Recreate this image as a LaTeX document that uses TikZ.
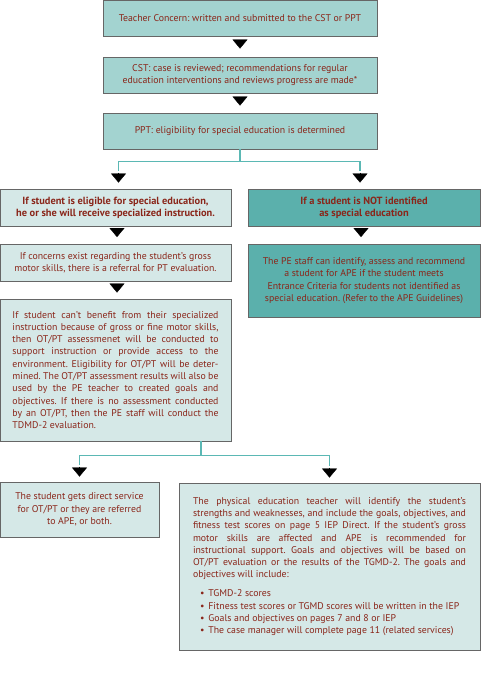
\documentclass[tikz,border=0pt]{standalone}
\usepackage{fontspec}
\setmainfont{PT Sans}
\usetikzlibrary{arrows.meta}
\definecolor{tealtop}{HTML}{A3D3D0}
\definecolor{tealpale}{HTML}{D5E8E7}
\definecolor{tealdark}{HTML}{5BB0AC}
\definecolor{tealline}{HTML}{5BB8B4}
\definecolor{boxtext}{HTML}{8A261A}
\definecolor{boxedge}{HTML}{666666}
\frenchspacing

\begin{document}
\begin{tikzpicture}[x=1pt, y=1pt, font=\fontsize{9.8}{12.3}\selectfont]
    \tikzstyle{box_style} = [draw=boxedge, line width=0.9pt, text=boxtext, inner sep=0pt, align=center]
    \tikzstyle{top_style} = [box_style, fill=tealtop, minimum width=274pt, minimum height=36pt]
    \tikzstyle{pale_style} = [box_style, fill=tealpale]
    \tikzstyle{dark_style} = [box_style, fill=tealdark]
    \tikzstyle{bold_text} = [font=\fontsize{10.4}{12.3}\selectfont\bfseries]
    \tikzstyle{tip_style} = [-{Triangle[width=15pt, length=9pt]}, black, line width=0.3pt]
    \tikzstyle{branch_style} = [tealline, line width=1.5pt]

    \useasboundingbox (0,0) rectangle (480,-692);

    \node[top_style] (concern) at (240,-18) {Teacher Concern: written and submitted to the CST or PPT};
    \node[top_style] (cst) at (240,-75) {CST: case is reviewed; recommendations for regular\\ education interventions and reviews progress are made*};
    \node[top_style] (ppt) at (240,-131) {PPT: eligibility for special education is determined};

    \node[pale_style, bold_text, minimum width=231pt, minimum height=37pt] (eligible) at (115.5,-207.5) {If student is eligible for special education,\\ he or she will receive specialized instruction.};
    \node[dark_style, bold_text, minimum width=232pt, minimum height=37pt] (notid) at (364,-207.5) {If a student is NOT identified\\ as special education};

    \node[pale_style, minimum width=231pt, minimum height=37pt] (gross) at (115.5,-262.5) {If concerns exist regarding the student’s gross\\ motor skills, there is a referral for PT evaluation.};
    \node[dark_style, minimum width=232pt, minimum height=73pt] (apeid) at (364,-280.5) {The PE staff can identify, assess and recommend\\ a student for APE if the student meets\\ Entrance Criteria for students not identified as\\ special education. (Refer to the APE Guidelines)};

    \node[pale_style, minimum width=231pt, minimum height=142pt, text width=206pt, align=justify] (otpt) at (115.5,-370) {If student can’t benefit from their specialized\linebreak instruction because of gross or fine motor skills,\linebreak then OT/PT assessmenet will be conducted to\linebreak support instruction or provide access to the\linebreak environment. Eligibility for OT/PT will be deter-\linebreak mined. The OT/PT assessment results will also be\linebreak used by the PE teacher to created goals and\linebreak objectives. If there is no assessment conducted\linebreak by an OT/PT, then the PE staff will conduct the\linebreak TDMD-2 evaluation.};

    \node[pale_style, minimum width=159pt, minimum height=55pt] (direct) at (79.5,-509.5) {The student gets direct service\\ for OT/PT or they are referred\\ to APE, or both.};
    \node[pale_style, minimum width=301pt, minimum height=167pt, text width=273pt, align=justify] (peteacher) at (329.5,-566.5) {The physical education teacher will identify the student’s\linebreak strengths and weaknesses, and include the goals, objectives, and\linebreak fitness test scores on page 5 IEP Direct. If the student’s gross\linebreak motor skills are affected and APE is recommended for\linebreak instructional support. Goals and objectives will be based on\linebreak OT/PT evaluation or the results of the TGMD-2. The goals and\linebreak objectives will include:\par\vspace{6.5pt}
    \hspace*{7pt}\textbullet\hspace{4pt}TGMD-2 scores\par
    \hspace*{7pt}\textbullet\hspace{4pt}Fitness test scores or TGMD scores will be written in the IEP\par
    \hspace*{7pt}\textbullet\hspace{4pt}Goals and objectives on pages 7 and 8 or IEP\par
    \hspace*{7pt}\textbullet\hspace{4pt}The case manager will complete page 11 (related services)};

    % arrows between boxes
    \draw[tip_style, shorten <=4pt, shorten >=8pt] (concern.south) -- (cst.north);
    \draw[tip_style, shorten <=4pt, shorten >=7pt] (cst.south) -- (ppt.north);
    \draw[tip_style, shorten <=2.5pt, shorten >=6.5pt] ([xshift=1.5pt]eligible.south) -- ([xshift=1.5pt]gross.north);
    \draw[tip_style, shorten <=2.5pt, shorten >=6.5pt] ([xshift=-3pt]notid.south) -- ([xshift=-3pt]apeid.north);
    \draw[tip_style, shorten <=3pt, shorten >=6pt] ([xshift=1.5pt]gross.south) -- ([xshift=1.5pt]otpt.north);

    % branches
    \draw[branch_style] (ppt.south) -- ++(0,-12) -| ([xshift=3pt, yshift=18pt]eligible.north);
    \draw[branch_style] (ppt.south) -- ++(0,-12) -| ([xshift=-4pt, yshift=18pt]notid.north);
    \draw[tip_style] ([xshift=3pt, yshift=16pt]eligible.north) -- ([xshift=3pt, yshift=6pt]eligible.north);
    \draw[tip_style] ([xshift=-4pt, yshift=16pt]notid.north) -- ([xshift=-4pt, yshift=6pt]notid.north);

    \draw[branch_style] ([xshift=85.5pt]otpt.south) -- ++(0,-14) -| ([yshift=17pt]direct.north);
    \draw[branch_style] ([xshift=85.5pt]otpt.south) -- ++(0,-14) -| ([yshift=17pt]peteacher.north);
    \draw[tip_style] ([yshift=15pt]direct.north) -- ([yshift=5pt]direct.north);
    \draw[tip_style] ([yshift=15pt]peteacher.north) -- ([yshift=5pt]peteacher.north);
\end{tikzpicture}
\end{document}
